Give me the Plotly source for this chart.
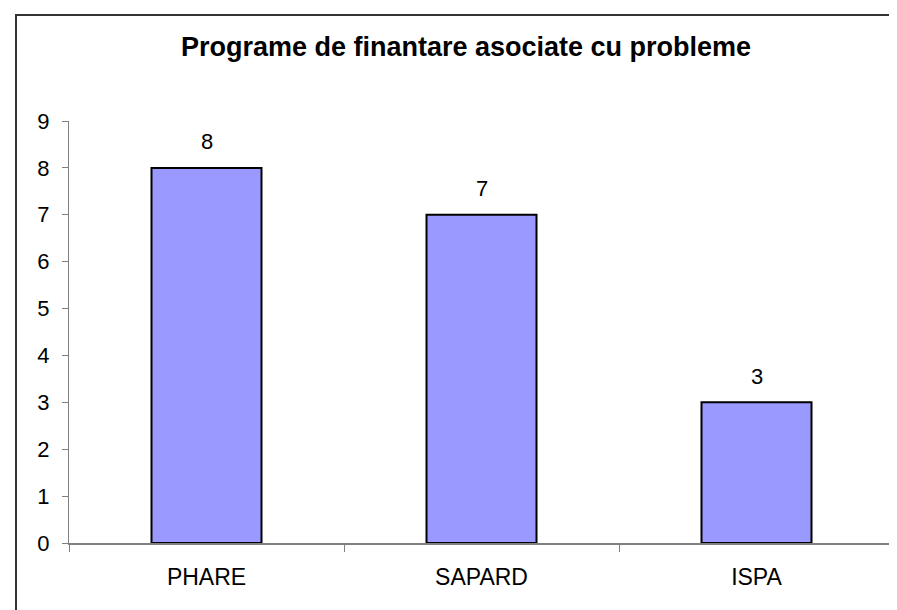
import plotly.graph_objects as go

categories = ["PHARE", "SAPARD", "ISPA"]
values = [8, 7, 3]
title_text = "Programe de finantare asociate cu probleme"

W, H = 897, 610
L, R, T, B = 61, 11, 113, 75
pw, ph = W - L - R, H - T - B

fig = go.Figure()
fig.add_trace(go.Bar(
    x=categories, y=values,
    marker=dict(color="#9999FF", line=dict(color="#000000", width=2)),
    width=0.4, showlegend=False, hoverinfo="x+y",
))

for c, v in zip(categories, values):
    fig.add_annotation(x=c, y=v, text=str(v), showarrow=False, yshift=26,
                       font=dict(family="Liberation Sans, Arial", size=22, color="#000"))

# outer chart frame (extends past right/bottom edges like the reference)
fig.add_shape(type="rect", xref="paper", yref="paper",
              x0=(8 - L) / pw, x1=(W + 20 - L) / pw,
              y0=-(B + 20) / ph, y1=1 + (T - 7) / ph,
              line=dict(color="#333333", width=2), layer="below")

fig.update_layout(
    width=W, height=H,
    margin=dict(l=L, r=R, t=T, b=B, pad=0),
    paper_bgcolor="white", plot_bgcolor="white",
    title=dict(text="<b>" + title_text + "</b>", x=458 / W, xref="container", xanchor="center",
               y=1 - 39 / H, yref="container", yanchor="middle",
               font=dict(family="Liberation Sans, Arial", size=27, color="#000")),
    bargap=0.6,
    font=dict(family="Liberation Sans, Arial", size=22, color="#000"),
)
fig.update_xaxes(
    showline=True, linecolor="#808080", linewidth=2,
    ticks="outside", tickson="boundaries", ticklen=7, tickcolor="#808080", tickwidth=1,
    tickfont=dict(size=23, color="#000"), ticklabelstandoff=12,
    showgrid=False, zeroline=False,
)
fig.update_yaxes(
    range=[0, 9], dtick=1, tick0=0,
    showline=True, linecolor="#808080", linewidth=1,
    ticks="outside", ticklen=6, tickcolor="#808080", tickwidth=1,
    tickfont=dict(size=22, color="#000"), ticklabelstandoff=8,
    showgrid=False, zeroline=False,
)

fig.write_html("out.html")
